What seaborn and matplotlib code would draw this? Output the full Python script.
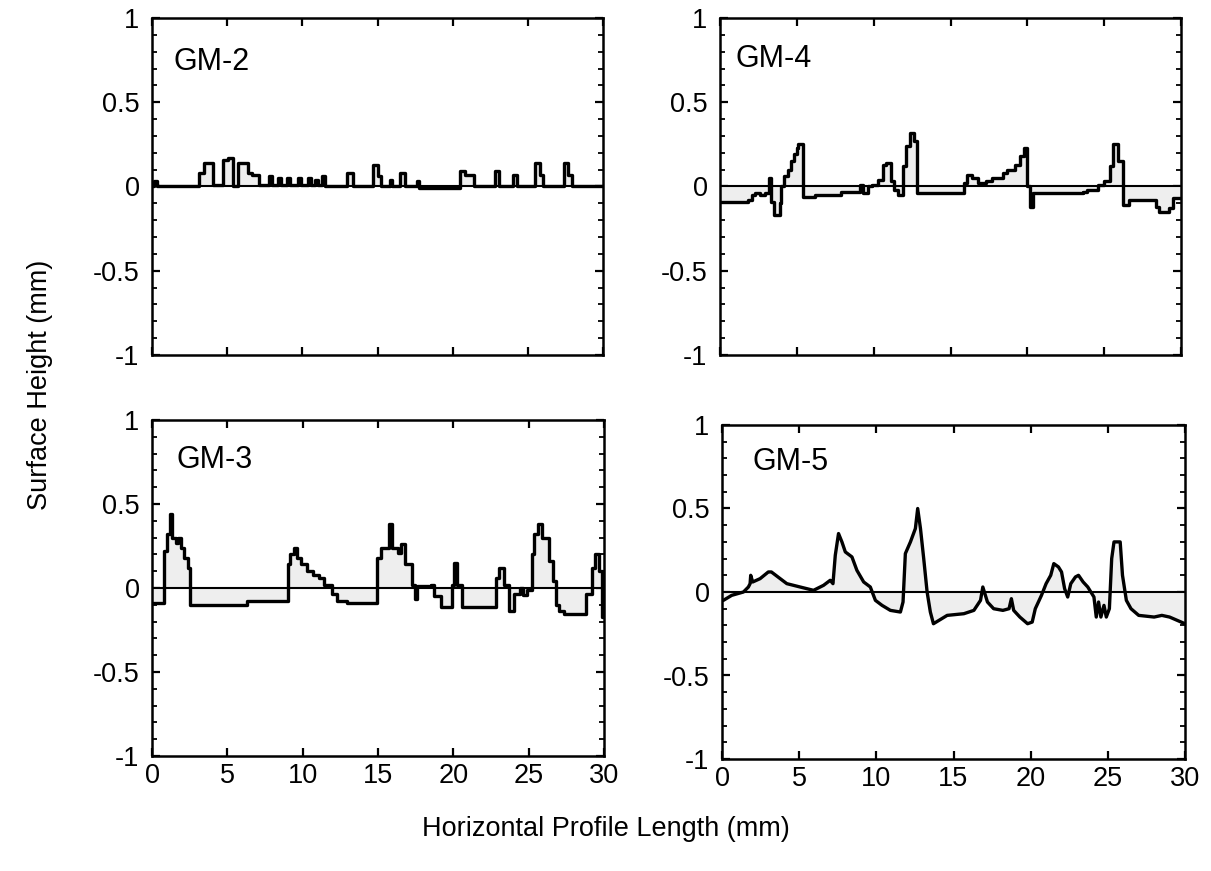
import matplotlib
matplotlib.use("Agg")
import matplotlib.pyplot as plt
import numpy as np
import seaborn as sns
from matplotlib.ticker import MultipleLocator

sns.set_style("ticks")
plt.rcParams['font.family'] = ['Liberation Sans', 'DejaVu Sans']
plt.rcParams['text.color'] = 'black'
plt.rcParams['xtick.color'] = 'black'
plt.rcParams['ytick.color'] = 'black'
plt.rcParams['xtick.labelcolor'] = 'black'
plt.rcParams['ytick.labelcolor'] = 'black'

# ---------------- data ----------------
# GM-2 (step profile, value holds until next x)
gm2_x = [0, 0.1, 0.3, 3.15, 3.45, 4.05, 4.7, 5.05, 5.4, 5.75, 6.4, 6.65, 7.1, 7.75, 7.95,
         8.4, 8.6, 9.0, 9.2, 9.7, 9.9, 10.4, 10.6, 10.85, 11.05, 11.3, 11.5, 12.95, 13.4,
         14.7, 15.05, 15.25, 15.8, 15.95, 16.5, 16.85, 17.6, 17.75, 20.5, 20.85, 21.4,
         22.8, 23.05, 24.0, 24.3, 25.5, 25.8, 26.0, 27.4, 27.7, 27.95, 30]
gm2_y = [0.0, 0.03, 0.0, 0.08, 0.14, 0.01, 0.16, 0.17, 0.0, 0.14, 0.08, 0.07, 0.01, 0.06, 0.01,
         0.05, 0.01, 0.05, 0.01, 0.05, 0.01, 0.05, 0.01, 0.04, 0.01, 0.06, 0.0, 0.08, 0.0,
         0.13, 0.06, 0.0, 0.04, 0.0, 0.08, 0.0, 0.03, -0.01, 0.09, 0.07, 0.0,
         0.09, 0.0, 0.07, 0.0, 0.14, 0.07, 0.0, 0.14, 0.07, 0.0, 0.0]

# GM-4 (step profile)
gm4_x = [0, 1.85, 2.1, 2.3, 2.6, 2.95, 3.2, 3.35, 3.5, 3.9, 4.0, 4.15, 4.4, 4.6, 4.8, 5.0,
         5.1, 5.4, 6.2, 7.9, 9.1, 9.3, 9.6, 9.9, 10.3, 10.6, 10.8, 11.1, 11.3, 11.6, 11.9,
         12.1, 12.35, 12.6, 12.8, 15.9, 16.1, 16.4, 16.8, 17.3, 17.7, 18.4, 18.7, 19.2,
         19.5, 19.8, 20.0, 20.15, 20.35, 23.6, 23.9, 24.6, 25.0, 25.35, 25.55, 25.9, 26.2,
         26.6, 28.4, 28.6, 29.2, 29.5, 30.0]
gm4_y = [-0.09, -0.08, -0.05, -0.04, -0.05, -0.04, 0.05, -0.09, -0.17, -0.10, 0.0, 0.06,
         0.10, 0.15, 0.19, 0.23, 0.25, -0.06, -0.05, -0.03, 0.01, -0.04, 0.0, 0.01, 0.04,
         0.13, 0.14, 0.03, -0.02, -0.05, 0.12, 0.24, 0.32, 0.27, -0.04, 0.02, 0.07, 0.05,
         0.02, 0.03, 0.05, 0.08, 0.10, 0.13, 0.18, 0.23, 0.0, -0.12, -0.04, -0.03, -0.02,
         0.01, 0.03, 0.12, 0.25, 0.15, -0.11, -0.08, -0.12, -0.15, -0.13, -0.07, -0.07]

# GM-3 (step profile)
gm3_x = [0, 0.8, 1.0, 1.2, 1.35, 1.6, 1.75, 1.9, 2.1, 2.4, 2.55, 6.3, 9.0, 9.15, 9.4, 9.65,
         9.9, 10.3, 10.7, 11.1, 11.4, 11.95, 12.3, 12.95, 14.95, 15.2, 15.7, 15.9, 16.3,
         16.5, 16.8, 17.25, 17.45, 17.6, 18.5, 18.7, 19.15, 19.9, 20.05, 20.25, 20.6,
         22.85, 23.0, 23.35, 23.7, 24.05, 24.4, 24.6, 24.9, 25.2, 25.35, 25.6, 25.9, 26.35,
         26.6, 26.8, 27.0, 27.35, 28.8, 29.2, 29.4, 29.7, 29.85, 30]
gm3_y = [-0.09, 0.22, 0.32, 0.44, 0.30, 0.27, 0.30, 0.24, 0.18, 0.12, -0.10, -0.08, 0.14,
         0.20, 0.24, 0.18, 0.14, 0.10, 0.08, 0.06, 0.02, -0.035, -0.075, -0.09, 0.18, 0.24,
         0.38, 0.24, 0.21, 0.26, 0.14, 0.02, -0.065, 0.01, 0.02, -0.045, -0.115, 0.02, 0.15,
         0.015, -0.115, 0.06, 0.12, 0.02, -0.135, -0.035, 0.0, -0.04, -0.01, 0.20, 0.32,
         0.38, 0.30, 0.16, 0.04, -0.10, -0.135, -0.155, -0.035, 0.12, 0.20, 0.10, -0.17, -0.17]

# GM-5 (continuous profile)
gm5_x = [0, 0.09, 0.63, 1.39, 1.71, 1.82, 1.86, 1.99, 2.47, 3.0, 3.2, 3.77, 4.2, 5.06, 5.93,
         6.58, 7.01, 7.19, 7.34, 7.55, 7.77, 7.99, 8.42, 8.74, 9.18, 9.61, 9.94, 10.37,
         10.91, 11.56, 11.73, 11.88, 12.21, 12.53, 12.68, 12.86, 13.07, 13.29, 13.5, 13.7,
         14.59, 15.67, 16.32, 16.75, 16.9, 17.2, 17.6, 18.2, 18.6, 18.75, 18.9, 19.3, 19.8,
         20.1, 20.3, 20.7, 21.0, 21.3, 21.5, 21.8, 22.0, 22.2, 22.4, 22.6, 22.9, 23.1, 23.4,
         23.7, 23.9, 24.1, 24.25, 24.4, 24.55, 24.75, 24.9, 25.1, 25.25, 25.4, 25.8, 25.95,
         26.2, 26.5, 27.0, 28.0, 28.5, 29.0, 29.5, 30.0]
gm5_y = [-0.05, -0.05, -0.02, 0.0, 0.03, 0.05, 0.10, 0.06, 0.08, 0.12, 0.12, 0.08, 0.05,
         0.03, 0.01, 0.04, 0.07, 0.05, 0.22, 0.35, 0.30, 0.24, 0.21, 0.13, 0.06, 0.03, -0.05,
         -0.08, -0.11, -0.12, -0.06, 0.23, 0.30, 0.38, 0.50, 0.38, 0.20, 0.0, -0.12, -0.19,
         -0.14, -0.13, -0.11, -0.05, 0.03, -0.06, -0.10, -0.11, -0.10, -0.04, -0.11, -0.15,
         -0.19, -0.18, -0.10, -0.02, 0.05, 0.10, 0.17, 0.15, 0.12, 0.02, -0.03, 0.05, 0.09,
         0.10, 0.06, 0.03, 0.0, -0.03, -0.15, -0.06, -0.15, -0.08, -0.15, -0.10, 0.20, 0.30,
         0.30, 0.10, -0.05, -0.10, -0.14, -0.15, -0.14, -0.15, -0.17, -0.19]

labels = ["GM-2", "GM-4", "GM-3", "GM-5"]
y_ticks = [-1, -0.5, 0, 0.5, 1]
y_ticklabels = ["-1", "-0.5", "0", "0.5", "1"]
x_ticks = [0, 5, 10, 15, 20, 25, 30]

# ---------------- layout ----------------
W, H = 1211, 871
def frac(x0, y0, x1, y1):
    return [x0 / W, 1 - y1 / H, (x1 - x0) / W, (y1 - y0) / H]

panels = [
    (gm2_x, gm2_y, "steps-post", frac(152, 18, 603, 355), (0.047, 0.868), False),
    (gm4_x, gm4_y, "steps-post", frac(720, 18, 1181, 355), (0.033, 0.878), False),
    (gm3_x, gm3_y, "steps-post", frac(152, 420, 604, 756), (0.055, 0.880), True),
    (gm5_x, gm5_y, "default", frac(722, 425, 1185, 759), (0.065, 0.890), True),
]

fig = plt.figure(figsize=(W / 100, H / 100), dpi=100)

for (xs, ys, ds, pos, lpos, show_x), lab in zip(panels, labels):
    ax = fig.add_axes(pos)
    xs_a = np.asarray(xs, float)
    ys_a = np.asarray(ys, float)
    if ds == "steps-post":
        ax.fill_between(xs_a, ys_a, 0, step="post", color="#eeeeee", lw=0, zorder=1)
    else:
        ax.fill_between(xs_a, ys_a, 0, color="#eeeeee", lw=0, zorder=1)
    ax.axhline(0, color="black", lw=1.5, zorder=2)
    sns.lineplot(x=xs_a, y=ys_a, ax=ax, color="black", lw=2.4, estimator=None,
                 sort=False, drawstyle=ds, zorder=3)
    ax.set_xlim(0, 30)
    ax.set_ylim(-1, 1)
    ax.set_xticks(x_ticks)
    ax.set_yticks(y_ticks)
    ax.set_yticklabels(y_ticklabels)
    ax.yaxis.set_minor_locator(MultipleLocator(0.1))
    ax.tick_params(axis="both", which="major", direction="in", top=True, right=True,
                   length=6, width=1.6, color="black", labelcolor="black",
                   labelsize=19.5, pad=9)
    ax.tick_params(axis="y", which="minor", direction="in", left=True, right=True,
                   length=3.5, width=1.3, color="black")
    if not show_x:
        ax.tick_params(axis="x", labelbottom=False)
    else:
        ax.tick_params(axis="x", pad=5)
    for s in ax.spines.values():
        s.set_linewidth(1.8)
        s.set_color("black")
        s.set_visible(True)
    ax.set_xlabel("")
    ax.set_ylabel("")
    ax.text(lpos[0], lpos[1], lab, transform=ax.transAxes, fontsize=22,
            ha="left", va="center", color="black")

fig.text(40 / W, 1 - 385 / H, "Surface Height (mm)", rotation=90, ha="center",
         va="center", fontsize=19.5, color="black")
fig.text(0.5, 1 - 829 / H, "Horizontal Profile Length (mm)", ha="center",
         va="center", fontsize=19.5, color="black")

fig.savefig("out.png", dpi=100, facecolor="white")
